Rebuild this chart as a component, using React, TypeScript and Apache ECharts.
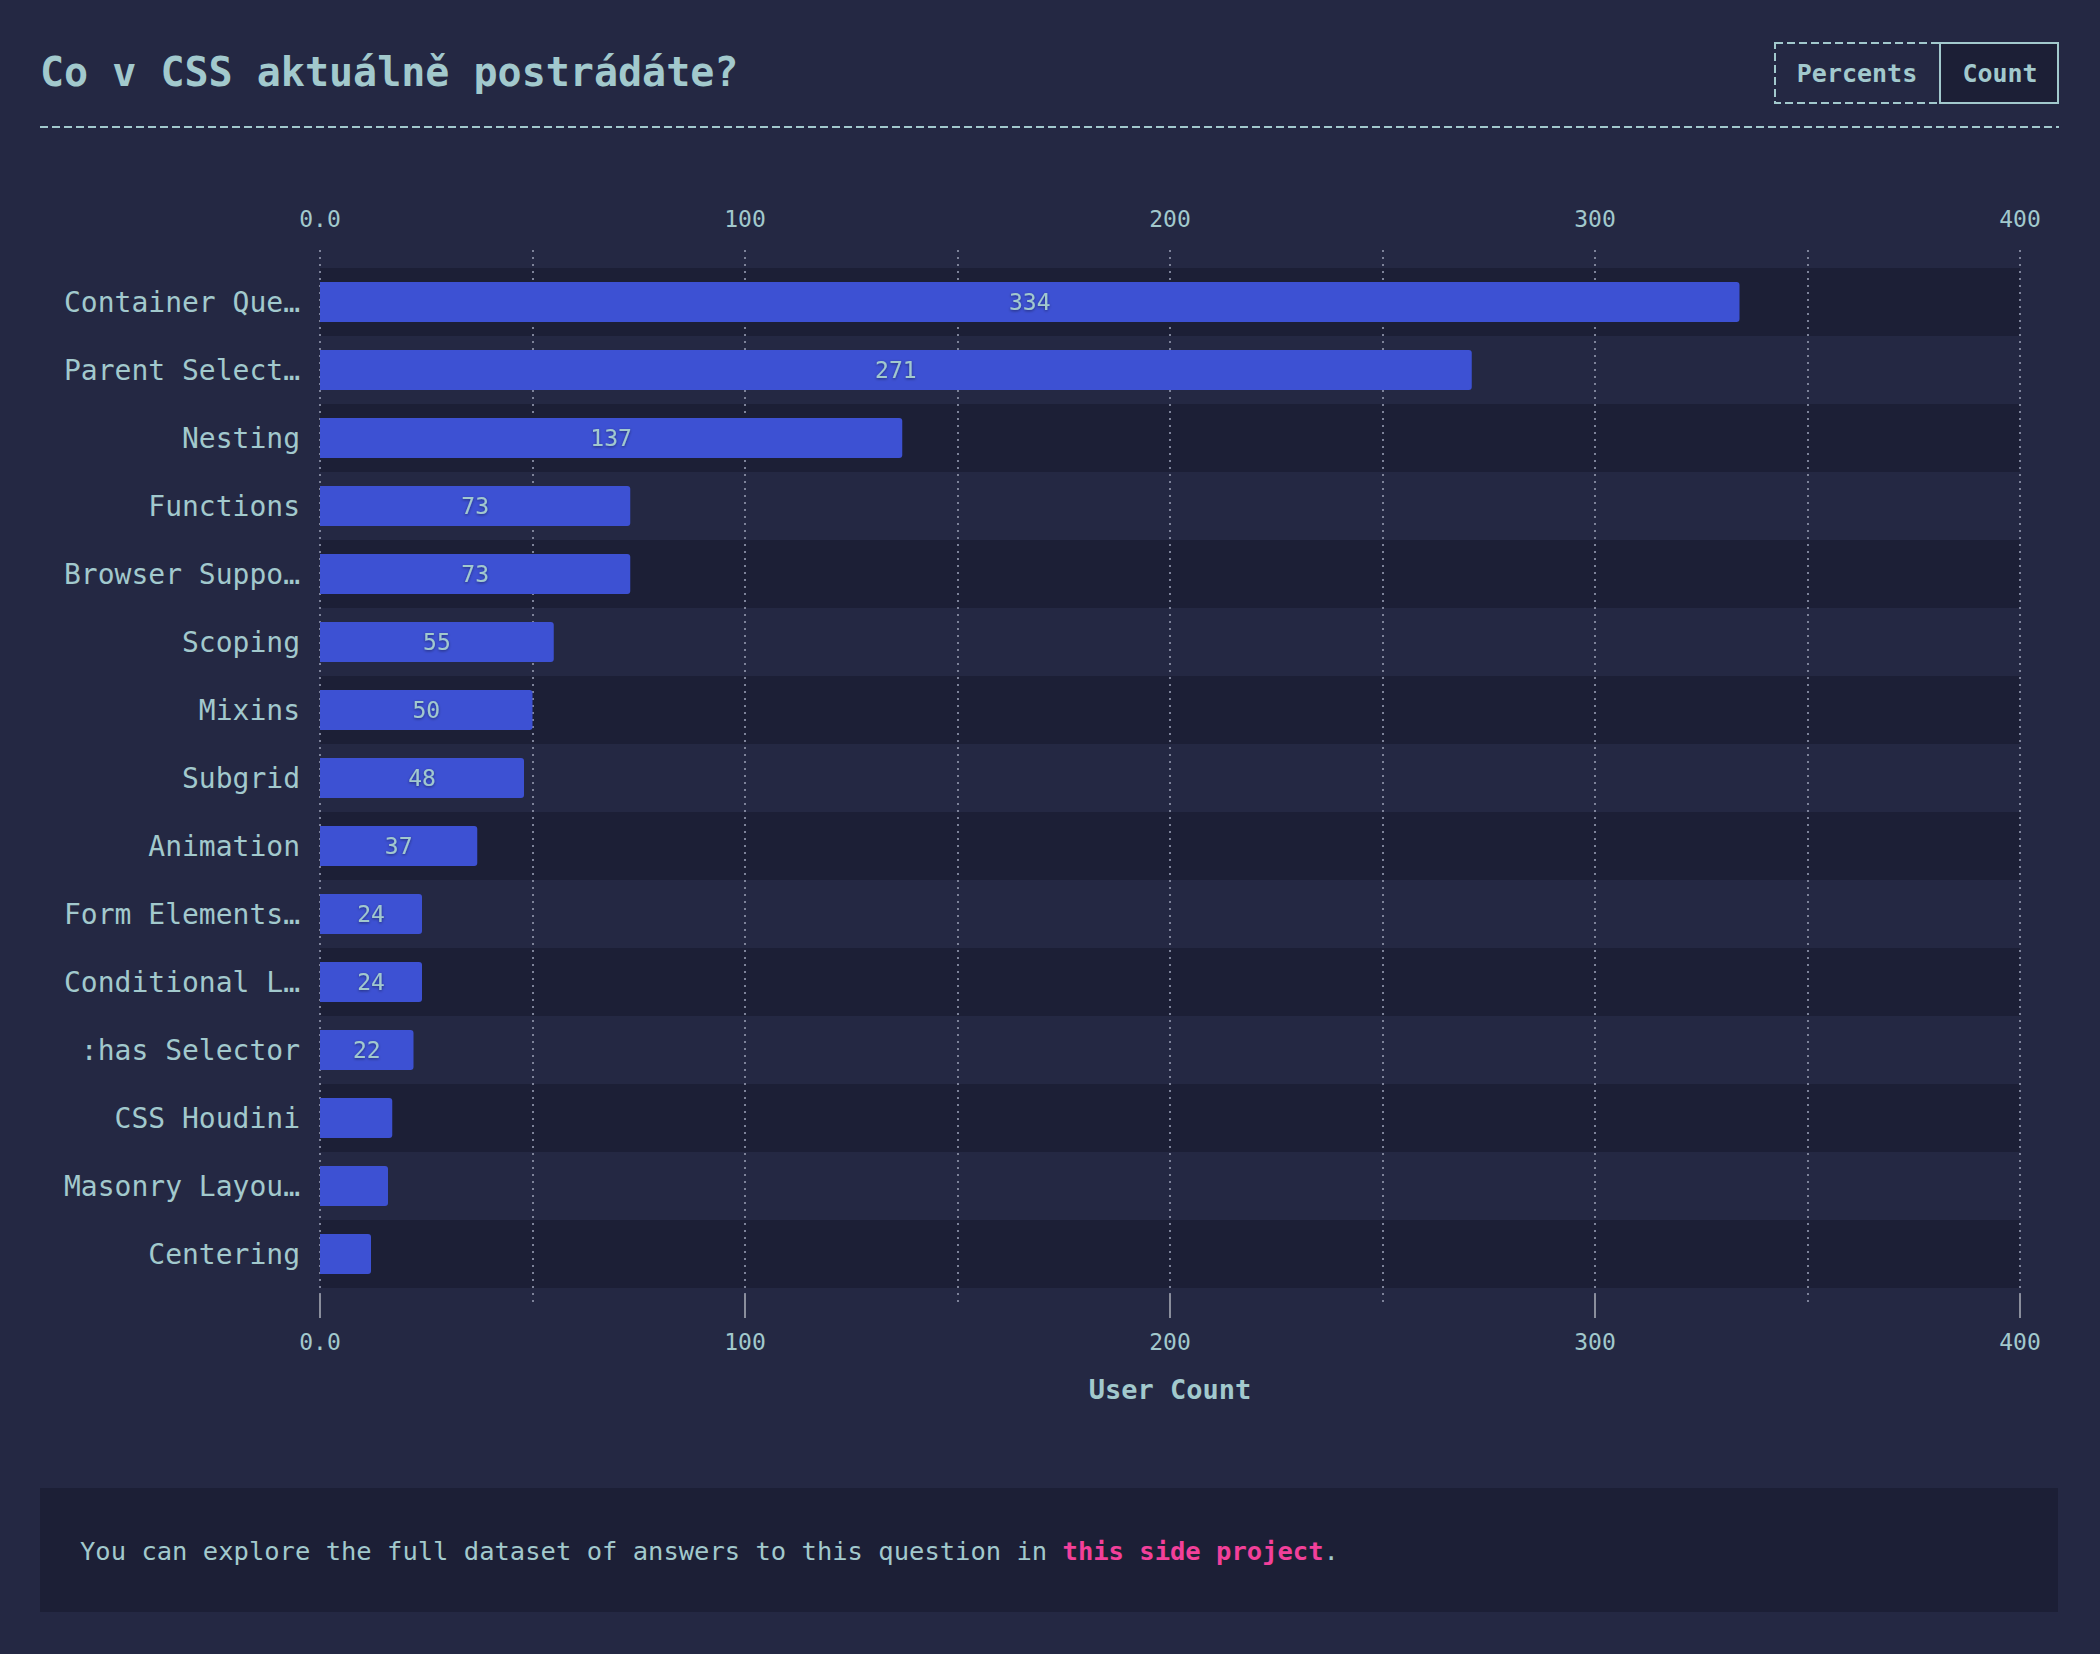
import React, { useEffect, useRef } from "react";
import * as echarts from "echarts";

const categories = [
  "Container Que…",
  "Parent Select…",
  "Nesting",
  "Functions",
  "Browser Suppo…",
  "Scoping",
  "Mixins",
  "Subgrid",
  "Animation",
  "Form Elements…",
  "Conditional L…",
  ":has Selector",
  "CSS Houdini",
  "Masonry Layou…",
  "Centering",
];
const userCounts = [334, 271, 137, 73, 73, 55, 50, 48, 37, 24, 24, 22, 17, 16, 12];
const titleText = "Co v CSS aktuálně postrádáte?";
const axisTitle = "User Count";
const footerText = "You can explore the full dataset of answers to this question in ";
const footerLink = "this side project";

const FONT = "'DejaVu Sans Mono', 'Liberation Mono', monospace";
const BG = "#242843";
const DARK = "#1c1f36";
const TEAL = "#a2c9cd";
const BAR = "#3d51d3";
const GRIDLINE = "#7d8299";

const gridLineStyle = { color: GRIDLINE, type: [2, 5], width: 2 };
const tickLabel = {
  fontFamily: FONT,
  fontSize: 23,
  color: TEAL,
  formatter: (v: number) => (v === 0 ? "0.0" : String(v)),
};

export default function App() {
  const ref = useRef<HTMLDivElement>(null);
  useEffect(() => {
    document.body.style.margin = "0";
    document.body.style.background = BG;
    const chart = echarts.init(ref.current!, null, { renderer: "svg" });
    const option: any = {
      animation: false,
      backgroundColor: BG,
      textStyle: { fontFamily: FONT },
      grid: [
        { left: 320, right: 80, top: 268, height: 1020 },
        { left: 320, right: 80, top: 250, bottom: 348 },
      ],
      xAxis: [
        { gridIndex: 0, type: "value", min: 0, max: 400, show: false },
        {
          gridIndex: 1,
          type: "value",
          position: "top",
          min: 0,
          max: 400,
          interval: 100,
          z: 1,
          axisLine: { show: false },
          axisTick: { show: true, length: 12, lineStyle: { color: "#8a8e9c", width: 2 } },
          axisLabel: { ...tickLabel, margin: 20 },
          minorTick: { show: false, splitNumber: 2 },
          splitLine: { show: true, lineStyle: gridLineStyle },
          minorSplitLine: { show: true, lineStyle: gridLineStyle },
        },
        {
          gridIndex: 1,
          type: "value",
          position: "bottom",
          min: 0,
          max: 400,
          interval: 100,
          z: 1,
          axisLine: { show: false },
          axisTick: { show: true, length: 12, lineStyle: { color: "#8a8e9c", width: 2 } },
          axisLabel: { ...tickLabel, margin: 24 },
          splitLine: { show: false },
          name: axisTitle,
          nameLocation: "middle",
          nameGap: 70,
          nameTextStyle: { fontFamily: FONT, fontSize: 27, fontWeight: "bold", color: TEAL },
        },
      ],
      yAxis: [
        {
          gridIndex: 0,
          type: "category",
          inverse: true,
          data: categories,
          z: 0,
          axisLine: { show: false },
          axisTick: { show: false },
          axisLabel: { fontFamily: FONT, fontSize: 28, color: TEAL, margin: 20 },
          splitArea: { show: true, areaStyle: { color: [DARK, BG] } },
        },
        { gridIndex: 1, type: "value", show: false },
      ],
      series: [
        {
          type: "bar",
          xAxisIndex: 0,
          yAxisIndex: 0,
          data: userCounts,
          barWidth: 40,
          z: 3,
          itemStyle: { color: BAR, borderRadius: [0, 3, 3, 0] },
          label: {
            show: true,
            position: "inside",
            fontFamily: FONT,
            fontSize: 23,
            color: TEAL,
            textShadowColor: "rgba(0,0,0,0.45)",
            textShadowBlur: 3,
            textShadowOffsetY: 1,
            formatter: (p: any) => (p.value >= 20 ? String(p.value) : ""),
          },
        },
      ],
      graphic: [
        {
          type: "text",
          left: 40,
          top: 52,
          style: { text: titleText, font: `bold 40px ${FONT}`, fill: TEAL },
        },
        {
          type: "line",
          shape: { x1: 40, y1: 127, x2: 2059, y2: 127 },
          style: { stroke: TEAL, lineWidth: 2, lineDash: [8, 4] },
        },
        {
          type: "rect",
          shape: { x: 1940, y: 43, width: 118, height: 60 },
          style: { fill: DARK, stroke: TEAL, lineWidth: 2 },
        },
        {
          type: "rect",
          shape: { x: 1775, y: 43, width: 165, height: 60 },
          style: { fill: "transparent", stroke: TEAL, lineWidth: 2, lineDash: [8, 4] },
        },
        {
          type: "text",
          x: 1857,
          y: 73,
          style: { text: "Percents", font: `bold 25px ${FONT}`, fill: TEAL, align: "center", verticalAlign: "middle" },
        },
        {
          type: "text",
          x: 2000,
          y: 73,
          style: { text: "Count", font: `bold 25px ${FONT}`, fill: TEAL, align: "center", verticalAlign: "middle" },
        },
        {
          type: "rect",
          shape: { x: 40, y: 1488, width: 2018, height: 124 },
          style: { fill: DARK },
        },
        {
          type: "text",
          x: 80,
          y: 1551,
          style: {
            text: `{a|${footerText}}{b|${footerLink}}{a|.}`,
            verticalAlign: "middle",
            rich: {
              a: { fontFamily: FONT, fontSize: 25.5, fill: TEAL, color: TEAL },
              b: { fontFamily: FONT, fontSize: 25.5, fontWeight: "bold", fill: "#f2409a", color: "#f2409a" },
            },
          },
        },
      ],
    };
    chart.setOption(option);
    return () => chart.dispose();
  }, []);
  return <div ref={ref} style={{ width: 2100, height: 1654 }} />;
}
